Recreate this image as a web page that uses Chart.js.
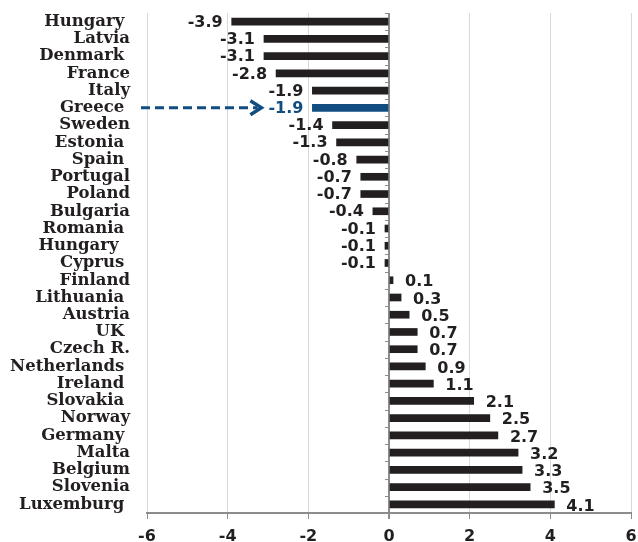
<!DOCTYPE html>
<html>
<head>
<meta charset="utf-8">
<script src="https://cdn.jsdelivr.net/npm/chart.js@4"></script>
<style>
  body { margin: 0; background: #fff; }
  #wrap { width: 638px; height: 542px; }
</style>
</head>
<body>
<div id="wrap"><canvas id="balanceChart" width="638" height="542"></canvas></div>
<script>
// country labels (trailing spaces kept as in the original sheet)
var countries = ['Hungary ', 'Latvia', 'Denmark ', 'France', 'Italy', 'Greece ', 'Sweden', 'Estonia ',
  'Spain ', 'Portugal', 'Poland', 'Bulgaria', 'Romania ', 'Hungary  ', 'Cyprus ', 'Finland',
  'Lithuania ', 'Austria', 'UK ', 'Czech R.', 'Netherlands ', 'Ireland ', 'Slovakia ', 'Norway',
  'Germany ', 'Malta', 'Belgium', 'Slovenia', 'Luxemburg '];
var changes = [-3.9, -3.1, -3.1, -2.8, -1.9, -1.9, -1.4, -1.3, -0.8, -0.7, -0.7, -0.4, -0.1, -0.1, -0.1,
  0.1, 0.3, 0.5, 0.7, 0.7, 0.9, 1.1, 2.1, 2.5, 2.7, 3.2, 3.3, 3.5, 4.1];
var xTicks = [-6, -4, -2, 0, 2, 4, 6];
var highlight = 'Greece ';

var dark = '#231f20';
var blue = '#114d80';
var hiIndex = countries.indexOf(highlight);

var valueLabels = {
  id: 'valueLabels',
  afterDatasetsDraw: function(chart) {
    var ctx = chart.ctx;
    var xs = chart.scales.x, ys = chart.scales.y;
    var area = chart.chartArea;
    var x0 = xs.getPixelForValue(0);
    ctx.save();

    // small ticks on the zero axis between categories
    ctx.strokeStyle = '#8c8c8c';
    ctx.lineWidth = 1;
    for (var i = 0; i <= countries.length; i++) {
      var yb = area.top + i * (area.bottom - area.top) / countries.length;
      ctx.beginPath();
      ctx.moveTo(x0 - 4, Math.round(yb) + 0.5);
      ctx.lineTo(x0, Math.round(yb) + 0.5);
      ctx.stroke();
    }

    ctx.font = 'bold 16px "DejaVu Sans"';
    ctx.textBaseline = 'middle';
    changes.forEach(function(v, i) {
      var y = ys.getPixelForValue(i);
      var xe = xs.getPixelForValue(v);
      var txt = v.toFixed(1);
      ctx.fillStyle = i === hiIndex ? blue : dark;
      if (v < 0) {
        ctx.textAlign = 'right';
        ctx.fillText(txt, xe - 9, y + 1);
      } else {
        ctx.textAlign = 'left';
        ctx.fillText(txt, xe + 12, y + 2);
      }
    });

    // dashed arrow pointing at Greece
    var yg = ys.getPixelForValue(hiIndex);
    var gx = xs.getPixelForValue(changes[hiIndex]) - 9 - ctx.measureText(changes[hiIndex].toFixed(1)).width;
    var tip = gx - 7;
    ctx.strokeStyle = blue;
    ctx.lineWidth = 3;
    ctx.setLineDash([9, 5]);
    ctx.beginPath();
    ctx.moveTo(area.left - 6, yg);
    ctx.lineTo(tip - 4, yg);
    ctx.stroke();
    ctx.setLineDash([]);
    ctx.lineWidth = 3.5;
    ctx.beginPath();
    ctx.moveTo(tip - 11, yg - 7);
    ctx.lineTo(tip, yg);
    ctx.lineTo(tip - 11, yg + 7);
    ctx.stroke();
    ctx.restore();
  }
};

var chart = new Chart(document.getElementById('balanceChart').getContext('2d'), {
  type: 'bar',
  data: {
    labels: countries,
    datasets: [{
      data: changes,
      backgroundColor: countries.map(function(c) { return c === highlight ? blue : dark; }),
      barThickness: 7
    }]
  },
  options: {
    indexAxis: 'y',
    responsive: false,
    animation: false,
    layout: { padding: { top: 13, right: 7, left: 0, bottom: 0 } },
    plugins: { legend: { display: false }, tooltip: { enabled: false } },
    scales: {
      x: {
        min: -6, max: 6,
        afterBuildTicks: function(scale) {
          scale.ticks = xTicks.map(function(v) { return { value: v }; });
        },
        afterFit: function(scale) {
          scale.height = 29;
          scale.paddingLeft = 0;
          scale.paddingRight = 0;
        },
        grid: {
          color: function(c) { return c.tick && c.tick.value === 0 ? '#8c8c8c' : '#d9d9d9'; },
          lineWidth: function(c) { return c.tick && c.tick.value === 0 ? 2 : 1; },
          tickColor: '#8c8c8c',
          tickLength: 6
        },
        border: { color: '#8c8c8c', width: 2 },
        ticks: {
          color: dark,
          padding: 8,
          font: { family: 'DejaVu Sans', weight: 'bold', size: 16 }
        }
      },
      y: {
        afterFit: function(scale) {
          scale.width = 147;
          scale.paddingTop = 0;
          scale.paddingBottom = 0;
        },
        grid: { display: false, drawTicks: false },
        border: { display: false },
        ticks: {
          autoSkip: false,
          padding: 17,
          color: dark,
          font: { family: 'DejaVu Serif', weight: 'bold', size: 16.5 }
        }
      }
    }
  },
  plugins: [valueLabels]
});
</script>
</body>
</html>
